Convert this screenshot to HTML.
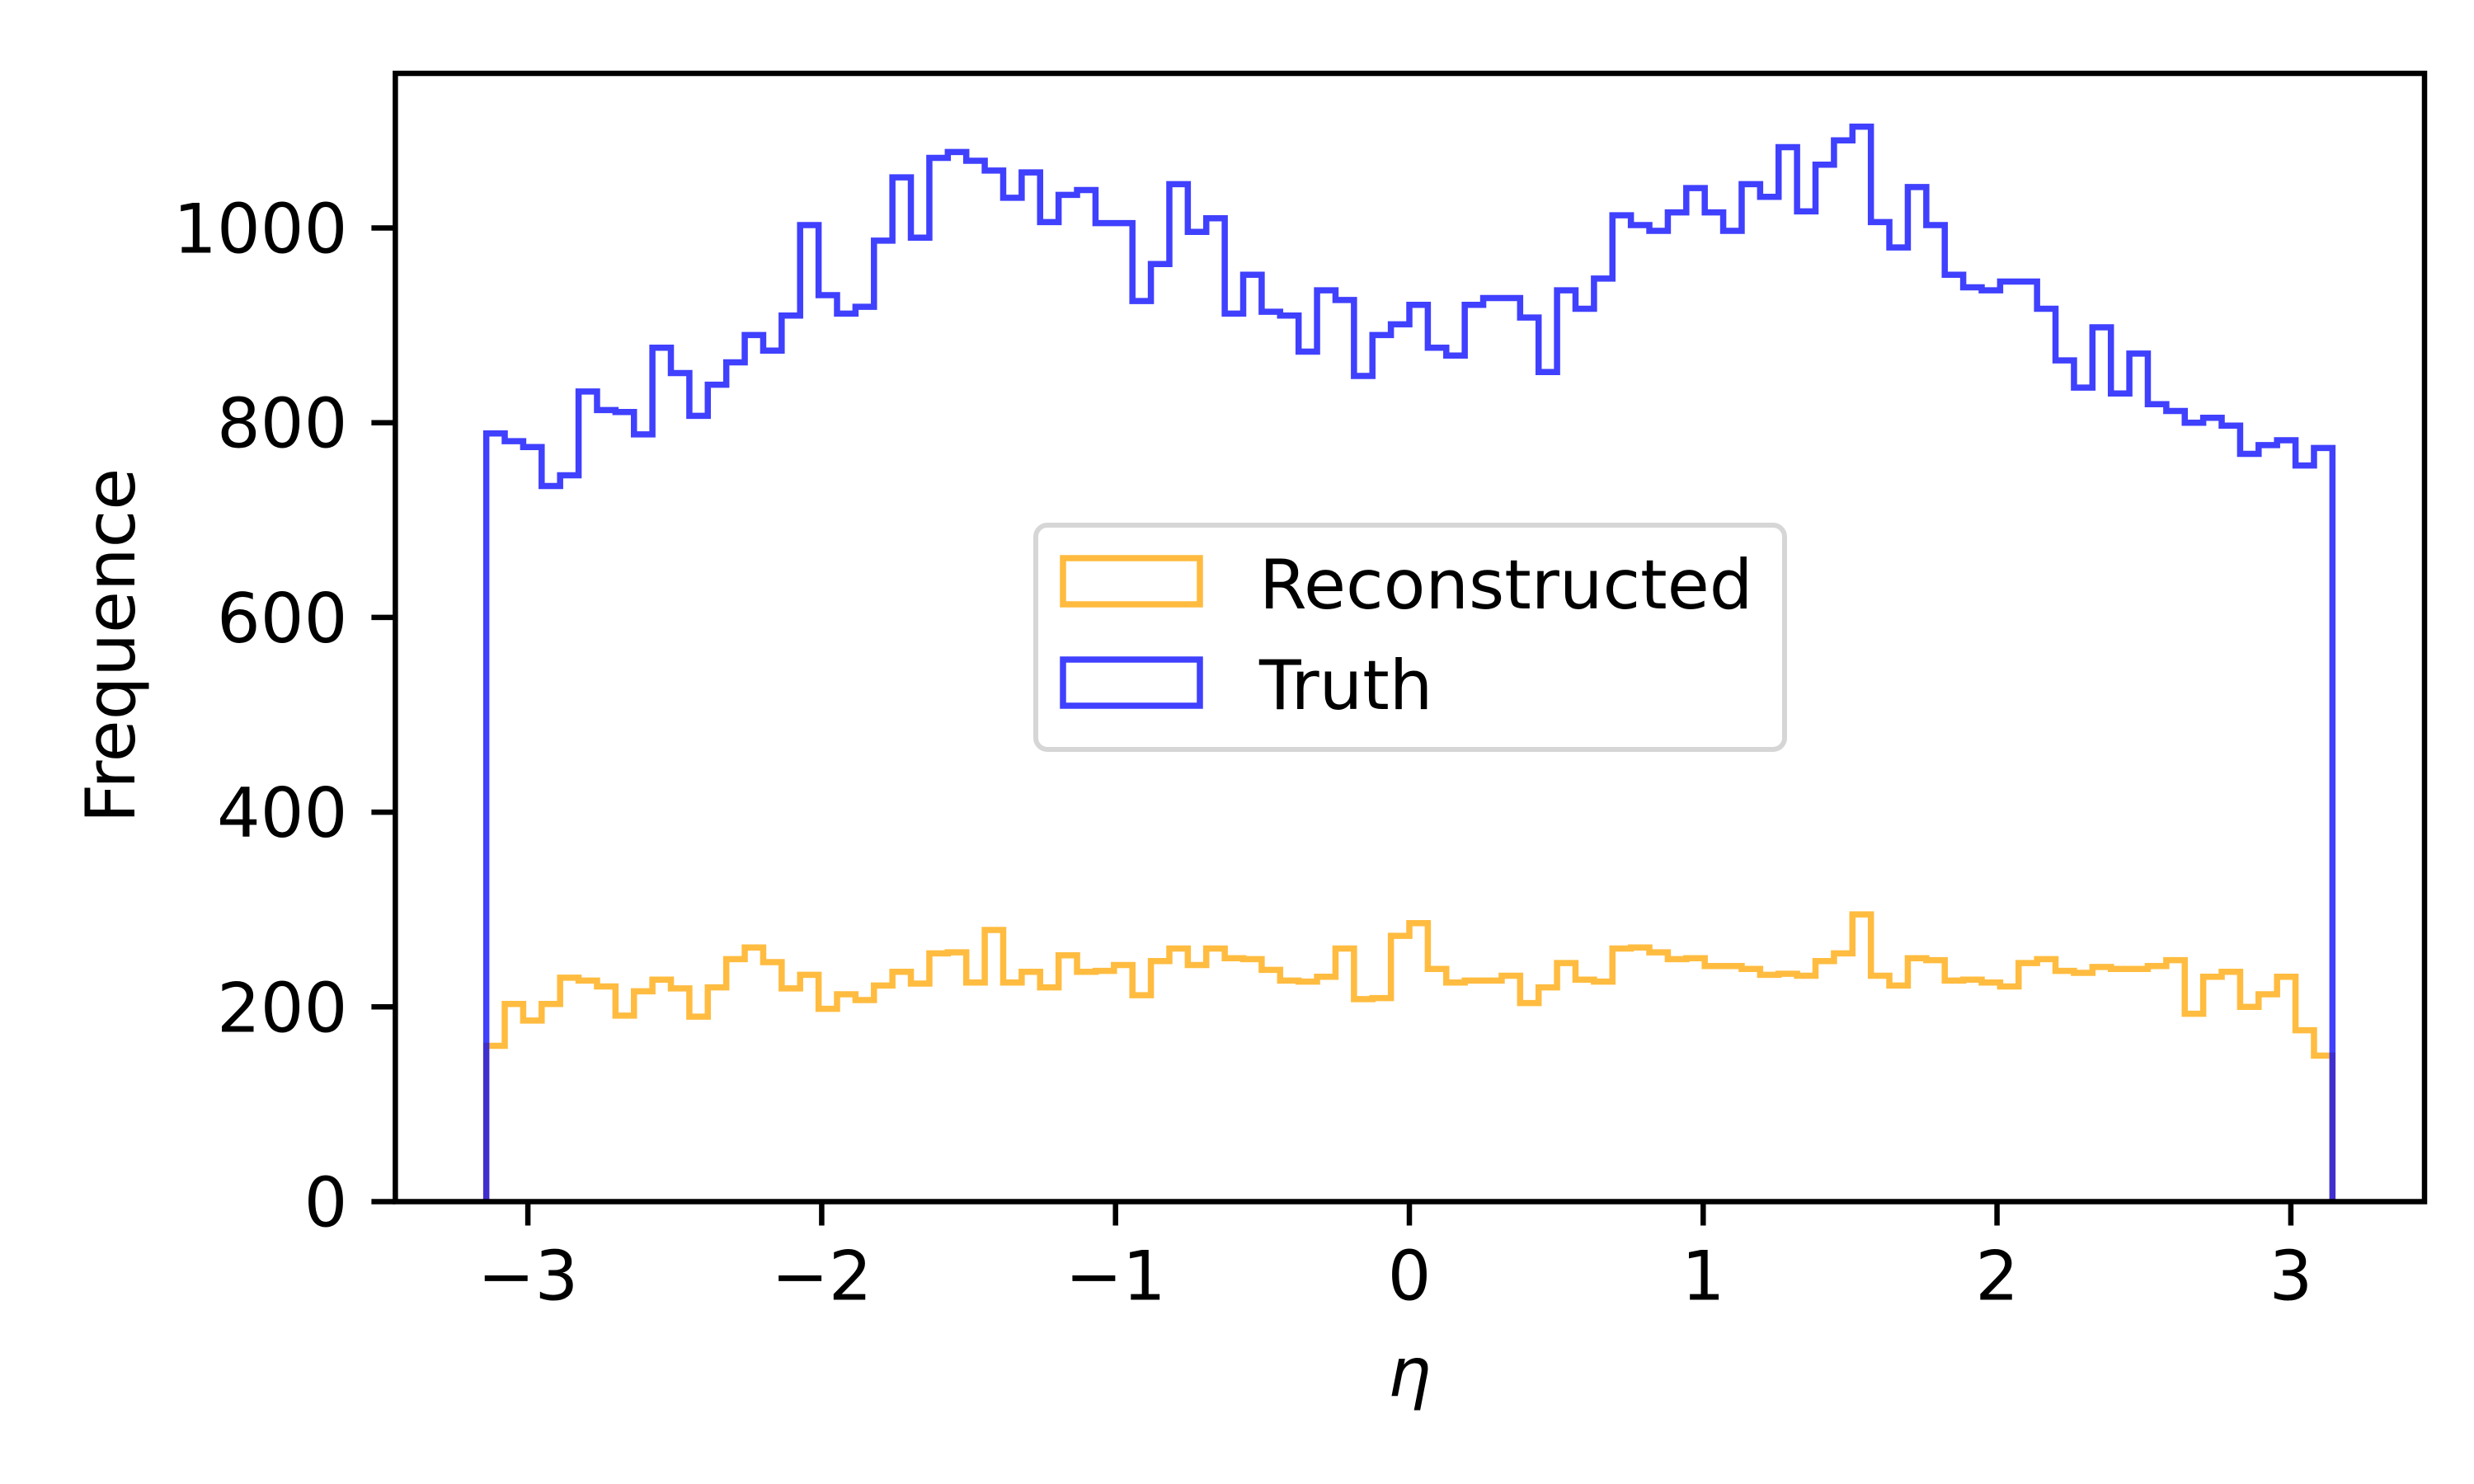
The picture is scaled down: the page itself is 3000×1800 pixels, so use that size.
<!DOCTYPE html>
<html><head><meta charset="utf-8"><style>
html,body{margin:0;padding:0;background:#fff;}
svg{display:block;}
text{font-family:"DejaVu Sans","Liberation Sans",sans-serif;fill:#000;}
</style></head><body>
<svg id="chart" width="3000" height="1800" viewBox="0 0 3000 1800" xmlns="http://www.w3.org/2000/svg">
<rect x="0" y="0" width="3000" height="1800" fill="#fff"/>
<g id="series"></g>
<g id="axes"></g>
<g id="legend">
  <rect x="1256" y="637" width="908" height="272" rx="14" fill="#fff" stroke="#d6d6d6" stroke-width="6"/>
  <rect x="1289" y="677" width="166" height="56" fill="none" stroke="#ffbb3f" stroke-width="7.5"/>
  <text x="1527" y="738" font-size="83">Reconstructed</text>
  <rect x="1289" y="800" width="166" height="56" fill="none" stroke="#4040ff" stroke-width="7.5"/>
  <text x="1527" y="860" font-size="83">Truth</text>
</g>
</svg>
<script>
const truthValues = [789,781,775,735,746,832,813,811,788,877,
851,807,839,862,890,874,910,1003,931,912,
919,987,1052,990,1072,1078,1069,1059,1031,1057,
1006,1034,1039,1005,1005,925,963,1045,996,1010,
912,952,914,910,873,936,926,848,890,901,
921,877,869,921,928,928,908,852,936,917,
948,1013,1003,997,1016,1041,1016,997,1045,1032,
1083,1017,1065,1090,1104,1006,980,1042,1003,952,
939,936,945,945,917,864,836,898,830,871,
819,812,800,805,797,768,777,782,756,774];
const recoValues = [160,203,186,203,230,227,221,191,216,228,
219,190,220,249,261,246,219,233,198,213,
207,222,236,224,255,256,225,279,225,236,
220,253,236,237,243,212,247,260,243,260,
250,249,238,227,226,231,260,208,209,273,
286,239,225,227,227,232,204,220,245,228,
226,260,261,256,249,250,242,242,239,233,
234,232,247,255,295,232,222,250,248,227,
228,225,221,245,249,237,235,241,239,239,
242,248,193,231,236,200,213,231,176,150];
const xTickValues = [-3,-2,-1,0,1,2,3];
const yTickValues = [0,200,400,600,800,1000];
const binRange = [-Math.PI, Math.PI];

const NS="http://www.w3.org/2000/svg";
const L=479.4,R=2940,T=89,B=1457.5;
const X0=1709, XU=356.3, YU=1.181;
function xs(v){return X0+v*XU;}
function ys(v){return B-v*YU;}

function stepPath(vals){
  const n=vals.length, w=(binRange[1]-binRange[0])/n;
  let d="M"+xs(binRange[0]).toFixed(2)+","+ys(0).toFixed(2);
  for(let i=0;i<n;i++){
    const x0=xs(binRange[0]+i*w), x1=xs(binRange[0]+(i+1)*w), y=ys(vals[i]);
    d+=" L"+x0.toFixed(2)+","+y.toFixed(2)+" L"+x1.toFixed(2)+","+y.toFixed(2);
  }
  d+=" L"+xs(binRange[1]).toFixed(2)+","+ys(0).toFixed(2);
  return d;
}
const sg=document.getElementById("series");
const p1=document.createElementNS(NS,"path");


p1.setAttribute("d",stepPath(recoValues));
p1.setAttribute("fill","none");p1.setAttribute("stroke","#ffa500");p1.setAttribute("stroke-opacity","0.75");
p1.setAttribute("stroke-width","7.5");p1.setAttribute("stroke-linejoin","miter");
sg.appendChild(p1);
const p2=document.createElementNS(NS,"path");


p2.setAttribute("d",stepPath(truthValues));
p2.setAttribute("fill","none");p2.setAttribute("stroke","#0000ff");p2.setAttribute("stroke-opacity","0.75");
p2.setAttribute("stroke-width","7.5");p2.setAttribute("stroke-linejoin","miter");
sg.appendChild(p2);

const ag=document.getElementById("axes");
const frame=document.createElementNS(NS,"rect");


frame.setAttribute("x",L);frame.setAttribute("y",T);frame.setAttribute("width",R-L);frame.setAttribute("height",B-T);
frame.setAttribute("fill","none");frame.setAttribute("stroke","#000");frame.setAttribute("stroke-width","6.5");
ag.appendChild(frame);
xTickValues.forEach(v=>{
  const x=xs(v);
  const tk=document.createElementNS(NS,"line");
  
  
  tk.setAttribute("x1",x);tk.setAttribute("x2",x);tk.setAttribute("y1",B);tk.setAttribute("y2",B+29);
  tk.setAttribute("stroke","#000");tk.setAttribute("stroke-width","6.5");ag.appendChild(tk);
  const t=document.createElementNS(NS,"text");
  
  
  t.setAttribute("x",x);t.setAttribute("y",B+119);t.setAttribute("text-anchor","middle");t.setAttribute("font-size","83");
  t.textContent=(v<0?"\u2212"+Math.abs(v):String(v));ag.appendChild(t);
});
yTickValues.forEach(v=>{
  const y=ys(v);
  const tk=document.createElementNS(NS,"line");
  
  
  tk.setAttribute("x1",L-29);tk.setAttribute("x2",L);tk.setAttribute("y1",y);tk.setAttribute("y2",y);
  tk.setAttribute("stroke","#000");tk.setAttribute("stroke-width","6.5");ag.appendChild(tk);
  const t=document.createElementNS(NS,"text");
  
  
  t.setAttribute("x",L-58);t.setAttribute("y",y+30);t.setAttribute("text-anchor","end");t.setAttribute("font-size","83");
  t.textContent=String(v);ag.appendChild(t);
});
const xl=document.createElementNS(NS,"text");


xl.setAttribute("x",1709);xl.setAttribute("y",1693);xl.setAttribute("text-anchor","middle");xl.setAttribute("font-size","83");xl.setAttribute("font-style","italic");
xl.textContent="\u03B7";ag.appendChild(xl);
const yl=document.createElementNS(NS,"text");


yl.setAttribute("transform","translate(163,783) rotate(-90)");yl.setAttribute("text-anchor","middle");yl.setAttribute("font-size","83");
yl.textContent="Frequence";ag.appendChild(yl);
</script>
</body></html>
